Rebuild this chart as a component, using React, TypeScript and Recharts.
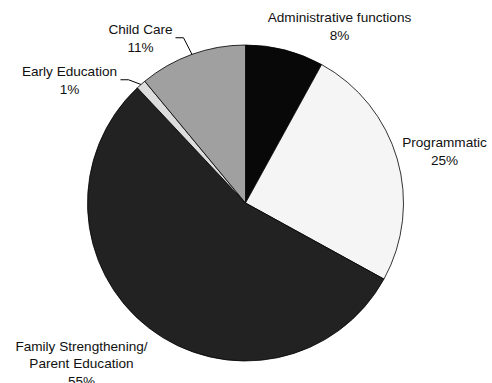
import { PieChart, Pie, Cell } from "recharts";

const categories = [
  "Administrative functions",
  "Programmatic",
  "Family Strengthening/\nParent Education",
  "Early Education",
  "Child Care",
];
const shares = [8, 25, 55, 1, 11];
const fills = ["#080808", "#f5f5f5", "#222222", "#dddddd", "#a0a0a0"];

const data = categories.map((name, i) => ({ name, value: shares[i] }));

// label block centre relative to pie centre, plus whether to draw a leader
const labelSpots: Record<number, { dx: number; dy: number; leader?: boolean }> = {
  0: { dx: 94, dy: -177 },
  1: { dx: 199, dy: -52 },
  2: { dx: -164, dy: 160 },
  3: { dx: -176, dy: -123, leader: true },
  4: { dx: -105, dy: -165, leader: true },
};

const RAD = Math.PI / 180;
const LINE_H = 17.5;

function renderLabel(props: any) {
  const { cx, cy, midAngle, outerRadius, index, name, value } = props;
  const spot = labelSpots[index];
  const lines = [...String(name).split("\n"), `${value}%`];
  const x = cx + spot.dx;
  const top = cy + spot.dy - ((lines.length - 1) * LINE_H) / 2;
  let leader = null;
  if (spot.leader) {
    const ex = cx + outerRadius * Math.cos(-midAngle * RAD);
    const ey = cy + outerRadius * Math.sin(-midAngle * RAD);
    const halfW = String(name).length * 3.2;
    const sx = x + halfW + 3;
    const sy = top + 8.5;
    leader = (
      <polyline
        points={`${sx},${sy} ${sx + 8},${sy} ${ex},${ey}`}
        fill="none"
        stroke="#000"
        strokeWidth={1}
      />
    );
  }
  return (
    <g key={`lbl-${index}`}>
      {leader}
      <text
        x={x}
        y={top}
        textAnchor="middle"
        dominantBaseline="central"
        fontFamily="'Liberation Sans', Arial, sans-serif"
        fontSize={13.6}
        fill="#111"
      >
        {lines.map((ln, i) => (
          <tspan key={i} x={x} dy={i === 0 ? 0 : LINE_H}>
            {ln}
          </tspan>
        ))}
      </text>
    </g>
  );
}

export default function App() {
  return (
    <>
      <style>{`body{margin:0;background:#fff}`}</style>
      <PieChart width={492} height={383} margin={{ top: 0, right: 0, bottom: 0, left: 0 }}>
        <Pie
          data={data}
          dataKey="value"
          nameKey="name"
          cx={245.5}
          cy={203}
          outerRadius={158}
          startAngle={90}
          endAngle={-270}
          stroke="#000"
          strokeWidth={0.8}
          label={renderLabel}
          labelLine={false}
          isAnimationActive={false}
        >
          {data.map((d, i) => (
            <Cell key={d.name} fill={fills[i]} />
          ))}
        </Pie>
      </PieChart>
    </>
  );
}
